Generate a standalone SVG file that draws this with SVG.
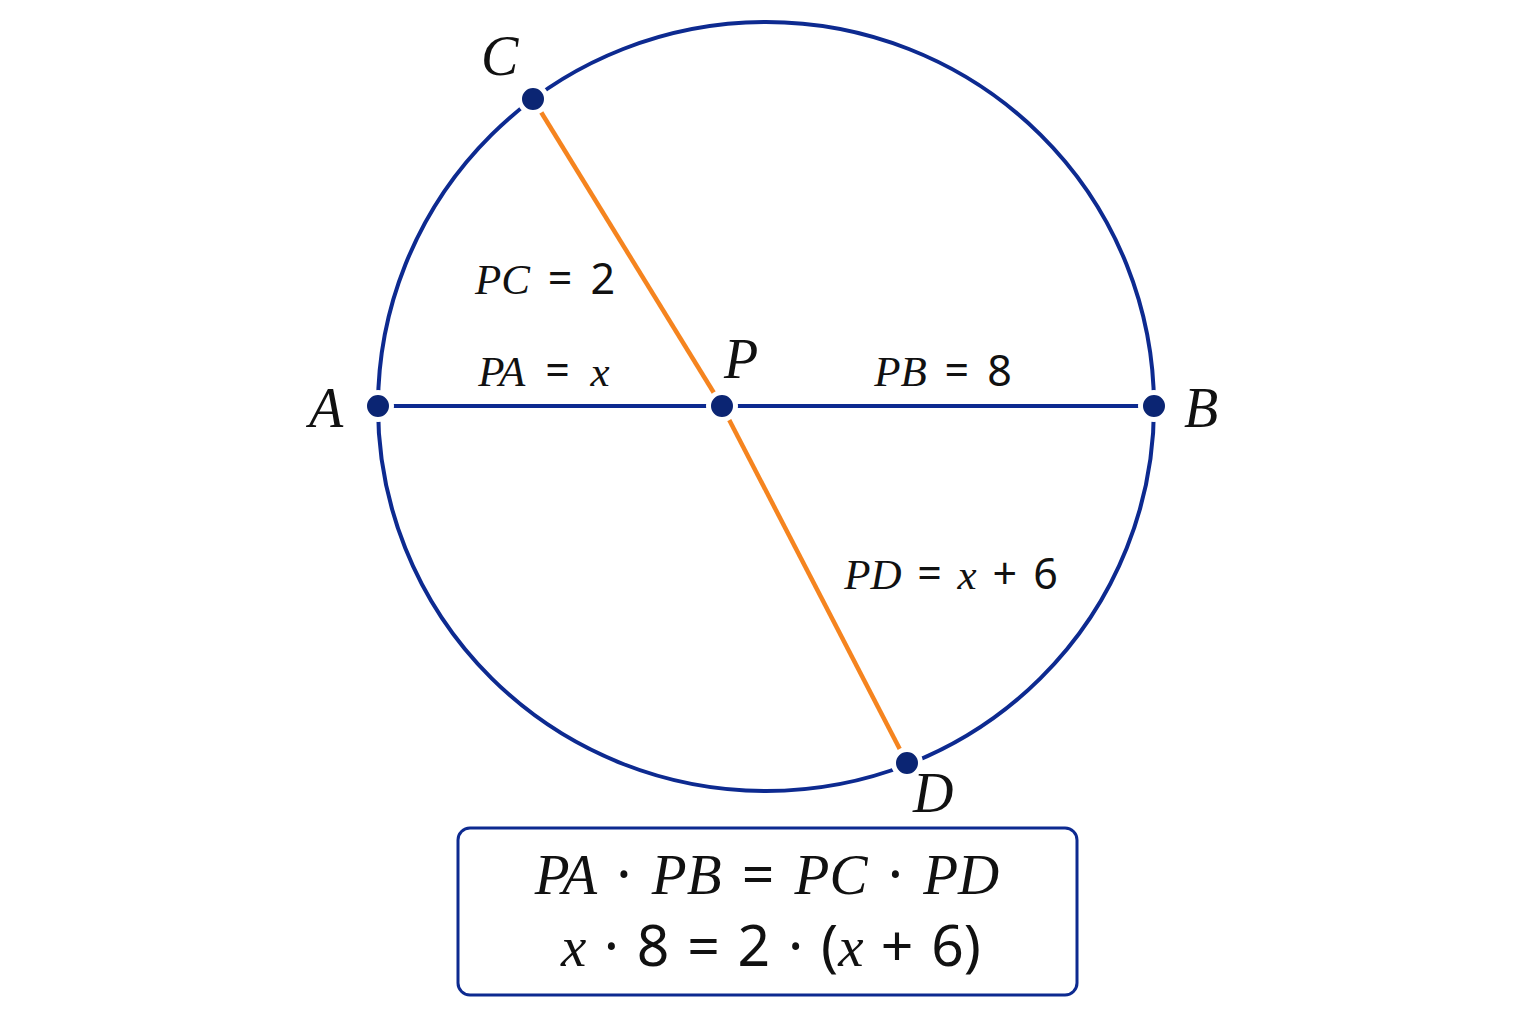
<svg xmlns="http://www.w3.org/2000/svg" width="1536" height="1024" viewBox="0 0 1536 1024">
<style>
.lbl{font-family:"Liberation Serif","DejaVu Serif",serif;font-style:italic;fill:#111;}
.num{font-family:"Noto Sans","DejaVu Sans",sans-serif;font-style:normal;}
.sm{font-size:43px;word-spacing:7px;}
.big{font-size:57px;word-spacing:6px;}
.pt{fill:#0b2573;stroke:#fff;stroke-width:5;}
.nav{stroke:#0d2a90;stroke-width:4;fill:none;}
.org{stroke:#f5841f;stroke-width:4.5;fill:none;}
</style>
<rect width="1536" height="1024" fill="#fff"/>
<g id="circle"><ellipse cx="766" cy="406.5" rx="388" ry="384.5" class="nav"/></g>
<g id="connectors">
<line x1="378" y1="406" x2="1154" y2="406" class="nav"/>
<line x1="533" y1="99" x2="722" y2="406" class="org"/>
<line x1="722" y1="406" x2="907" y2="763" class="org"/>
</g>
<g id="A"><circle cx="378" cy="406" r="13.5" class="pt"/><text x="309" y="427" class="lbl" font-size="56">A</text></g>
<g id="B"><circle cx="1154" cy="406" r="13.5" class="pt"/><text x="1184" y="427" class="lbl" font-size="56">B</text></g>
<g id="C"><circle cx="533" cy="99" r="13.5" class="pt"/><text x="481" y="75" class="lbl" font-size="56">C</text></g>
<g id="D"><circle cx="907" cy="763" r="13.5" class="pt"/><text x="913" y="812" class="lbl" font-size="56">D</text></g>
<g id="P"><circle cx="722" cy="406" r="13.5" class="pt"/><text x="724" y="378" class="lbl" font-size="56">P</text></g>
<g id="labels">
<text x="545" y="294" class="lbl sm" text-anchor="middle">PC <tspan class="num">= 2</tspan></text>
<text x="544" y="386" class="lbl sm" text-anchor="middle" style="word-spacing:10px">PA <tspan class="num">=</tspan> x</text>
<text x="943" y="386" class="lbl sm" text-anchor="middle">PB <tspan class="num">= 8</tspan></text>
<text x="951" y="589" class="lbl sm" text-anchor="middle" style="word-spacing:5px">PD <tspan class="num">=</tspan> x <tspan class="num">+ 6</tspan></text>
</g>
<g id="formula">
<rect x="458" y="828" width="619" height="167" rx="12" fill="#fff" stroke="#0d2a90" stroke-width="3"/>
<text x="767" y="894" class="lbl big" text-anchor="middle">PA <tspan class="num">·</tspan> PB <tspan class="num">=</tspan> PC <tspan class="num">·</tspan> PD</text>
<text x="771" y="966" class="lbl big" text-anchor="middle" style="word-spacing:3px">x <tspan class="num">· 8 = 2 · (</tspan>x <tspan class="num">+ 6)</tspan></text>
</g>
</svg>
